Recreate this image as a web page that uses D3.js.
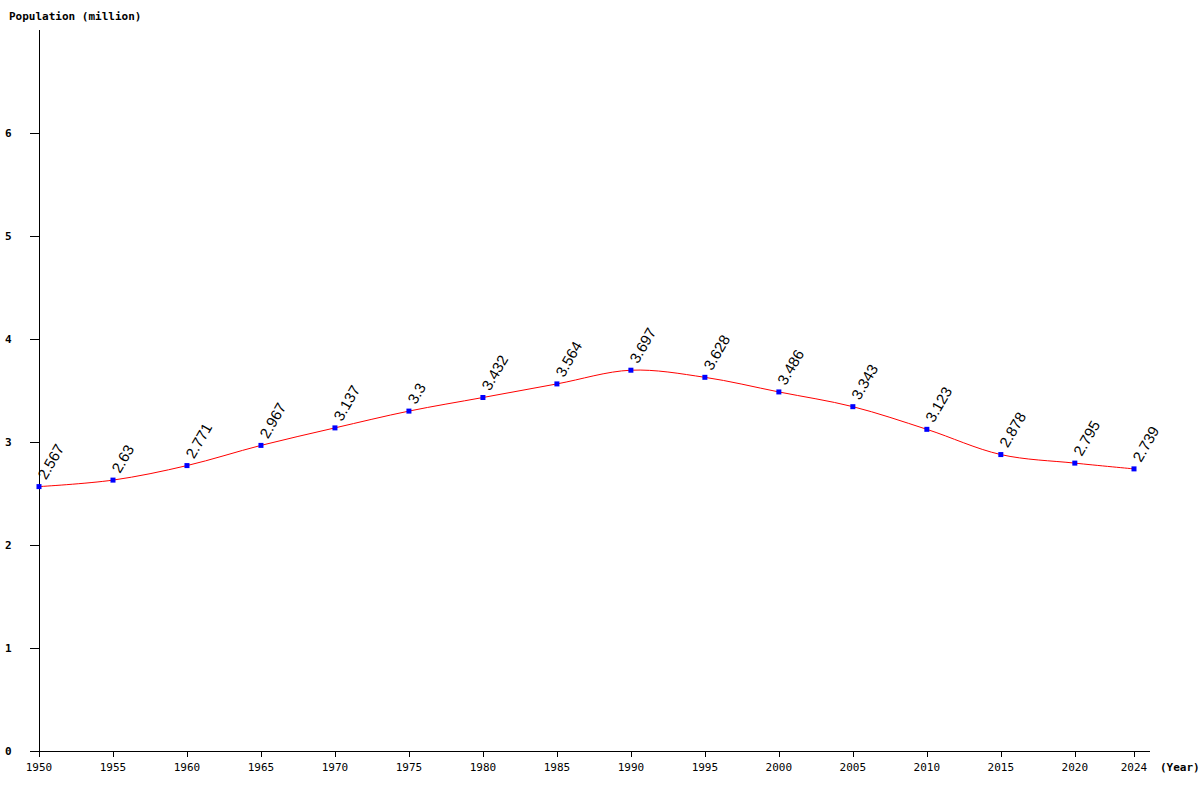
<!DOCTYPE html>
<html><head><meta charset="utf-8">
<script src="https://cdn.jsdelivr.net/npm/d3@7"></script>
<style>
body{margin:0;background:#fff;}
svg{display:block;}
</style></head>
<body>
<svg id="c" width="1200" height="800"></svg>
<script>
const years = [1950,1955,1960,1965,1970,1975,1980,1985,1990,1995,2000,2005,2010,2015,2020,2024];
const population = [2.567,2.63,2.771,2.967,3.137,3.3,3.432,3.564,3.697,3.628,3.486,3.343,3.123,2.878,2.795,2.739];
const yTicks = [0,1,2,3,4,5,6];
const yTitle = "Population (million)";
const xTitle = "(Year)";

const svg = d3.select("#c");
const x = d3.scaleLinear().domain([1950,2024]).range([39,1134]);
const y = d3.scaleLinear().domain([0,7]).range([751,30]);
const mono = "'DejaVu Sans Mono', 'Liberation Mono', monospace";

// axes lines
svg.append("line").attr("x1",39.5).attr("x2",39.5).attr("y1",y(7)).attr("y2",y(0)).attr("stroke","#000");
svg.append("line").attr("x1",30).attr("x2",1150).attr("y1",y(0)+0.5).attr("y2",y(0)+0.5).attr("stroke","#000");

// y ticks
const yg = svg.append("g");
yTicks.forEach(t=>{
  yg.append("line").attr("x1",30).attr("x2",39).attr("y1",Math.round(y(t))+0.5).attr("y2",Math.round(y(t))+0.5).attr("stroke","#000");
  yg.append("text").attr("x",5).attr("y",y(t)+4).text(t)
    .attr("font-family",mono).attr("font-weight","bold").attr("font-size",11);
});

// x ticks
const xg = svg.append("g");
years.forEach(t=>{
  const px = Math.round(x(t))+0.5;
  xg.append("line").attr("x1",px).attr("x2",px).attr("y1",y(0)).attr("y2",y(0)+6).attr("stroke","#000");
  xg.append("text").attr("x",x(t)).attr("y",771).attr("text-anchor","middle").text(t)
    .attr("font-family",mono).attr("font-size",11);
});

svg.append("text").attr("x",9).attr("y",20).text(yTitle)
  .attr("font-family",mono).attr("font-weight","bold").attr("font-size",11);
svg.append("text").attr("x",1160).attr("y",771).text(xTitle)
  .attr("font-family",mono).attr("font-weight","bold").attr("font-size",11);

// line
const line = d3.line().x((d,i)=>x(years[i])).y(d=>y(d)).curve(d3.curveCatmullRom.alpha(0.5));
svg.append("path").datum(population).attr("d",line).attr("fill","none").attr("stroke","#ff0000").attr("stroke-width",1);

// points
svg.append("g").selectAll("rect").data(population).join("rect")
  .attr("x",(d,i)=>x(years[i])-2.5).attr("y",d=>y(d)-2.5).attr("width",5).attr("height",5).attr("fill","#0000ff");

// labels
svg.append("g").selectAll("text").data(population).join("text")
  .attr("transform",(d,i)=>`translate(${x(years[i])+7},${y(d)-6}) rotate(-60)`)
  .attr("font-family","'Liberation Sans', Arial, sans-serif").attr("font-size",15)
  .attr("fill","#000")
  .text(d=>d);
</script>
</body></html>
